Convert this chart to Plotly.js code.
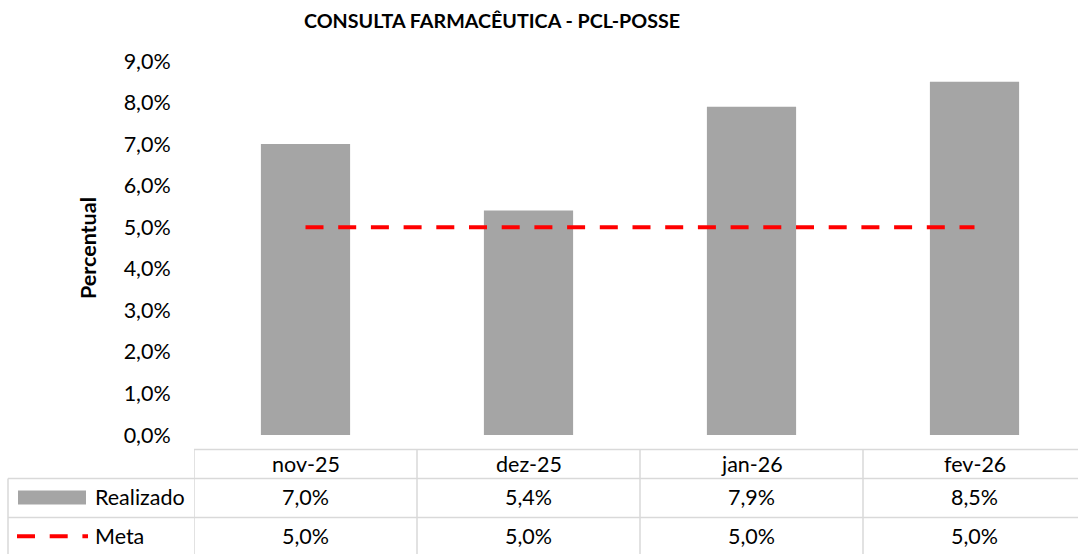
<!DOCTYPE html>
<html>
<head>
<meta charset="utf-8">
<script src="https://cdn.plot.ly/plotly-3.0.1.min.js"></script>
<style>html,body{margin:0;padding:0;background:#fff;}#chart{width:1078px;height:554px;}</style>
</head>
<body>
<div id="chart"></div>
<script>
var categories = ['nov-25', 'dez-25', 'jan-26', 'fev-26'];
var realizado = [7.0, 5.4, 7.9, 8.5];
var meta = [5.0, 5.0, 5.0, 5.0];
var seriesNames = ['Realizado', 'Meta'];
var yTicks = [0, 1, 2, 3, 4, 5, 6, 7, 8, 9];

var W = 1078, H = 554;
var L = 194, T = 61, B = 118.5;
var plotW = W - L, plotH = H - T - B;
function px(x) { return (x - L) / plotW; }
function py(y) { return (H - B - y) / plotH; }
function fmt(v) { return v.toFixed(1).replace('.', ',') + '%'; }

var FONT = 'Lato, "Open Sans", sans-serif';
var FS = 21.5;
var gridC = '#d9d9d9';
var barC = '#a5a5a5';
var redC = '#ff0000';
var DASH = '18px,14.7px';

var xs = categories.map(function(c, i){ return i; });
var traces = [
  {
    type: 'bar', x: xs, y: realizado,
    name: seriesNames[0], marker: {color: barC, line: {width: 0}}, width: 0.4,
    hoverinfo: 'skip'
  },
  {
    type: 'scatter', mode: 'lines', x: xs, y: meta,
    name: seriesNames[1], line: {color: redC, width: 4, dash: DASH},
    hoverinfo: 'skip'
  }
];

var shapes = [];
var annotations = [];
function hline(y, x0, x1) {
  shapes.push({type: 'line', xref: 'paper', yref: 'paper', x0: px(x0), x1: px(x1), y0: py(y), y1: py(y),
    line: {color: gridC, width: 1.5}, layer: 'above'});
}
function vline(x, y0, y1, xref) {
  shapes.push({type: 'line', xref: xref || 'paper', yref: 'paper', x0: x, x1: x, y0: py(y0), y1: py(y1),
    line: {color: gridC, width: 1.5}, layer: 'above'});
}
hline(450, 194, 1078);
hline(479, 8, 1078);
hline(518, 8, 1078);
vline(px(8), 479, 560);
for (var i = 0; i <= categories.length - 1; i++) {
  vline(i - 0.5, 450, 560, 'x');
}

// legend keys in table
shapes.push({type: 'rect', xref: 'paper', yref: 'paper', x0: px(18), x1: px(86), y0: py(505), y1: py(491),
  fillcolor: barC, line: {width: 0}});
shapes.push({type: 'line', xref: 'paper', yref: 'paper', x0: px(17), x1: px(88), y0: py(537), y1: py(537),
  line: {color: redC, width: 4, dash: DASH}});

function ann(text, xref, x, y, xanchor) {
  annotations.push({text: text, xref: xref, yref: 'paper', x: x, y: py(y), xanchor: xanchor || 'center', yanchor: 'middle',
    showarrow: false, font: {family: FONT, size: FS, color: '#000'}});
}
categories.forEach(function(c, i) {
  ann(c, 'x', i, 465);
  ann(fmt(realizado[i]), 'x', i, 498);
  ann(fmt(meta[i]), 'x', i, 537);
});
ann(seriesNames[0], 'paper', px(93), 498, 'left');
ann(seriesNames[1], 'paper', px(93), 537, 'left');

var layout = {
  width: W, height: H,
  margin: {l: L, r: 0, t: T, b: B, pad: 0},
  paper_bgcolor: '#fff', plot_bgcolor: '#fff',
  showlegend: false,
  font: {family: FONT, size: FS, color: '#000'},
  title: {text: '<b>CONSULTA FARMACÊUTICA - PCL-POSSE</b>', x: 492 / W, xref: 'container', xanchor: 'center',
    y: 1 - 21 / H, yref: 'container', yanchor: 'middle', font: {family: FONT, size: 19.7, color: '#000'}},
  xaxis: {
    range: [-0.5, -0.5 + plotW / 223], showticklabels: false, showgrid: false, zeroline: false,
    showline: false, ticks: '', fixedrange: true
  },
  yaxis: {
    range: [0, 9], tickmode: 'array', tickvals: yTicks, ticktext: yTicks.map(fmt),
    showgrid: false, zeroline: false, showline: false,
    ticks: 'outside', ticklen: 18, tickcolor: 'rgba(0,0,0,0)',
    tickfont: {family: FONT, size: FS, color: '#000'},
    title: {text: '<b>Percentual</b>', standoff: 21, font: {family: FONT, size: FS, color: '#000'}},
    automargin: false, fixedrange: true
  },
  shapes: shapes,
  annotations: annotations
};

Plotly.newPlot('chart', traces, layout, {displayModeBar: false, staticPlot: true});
</script>
</body>
</html>
